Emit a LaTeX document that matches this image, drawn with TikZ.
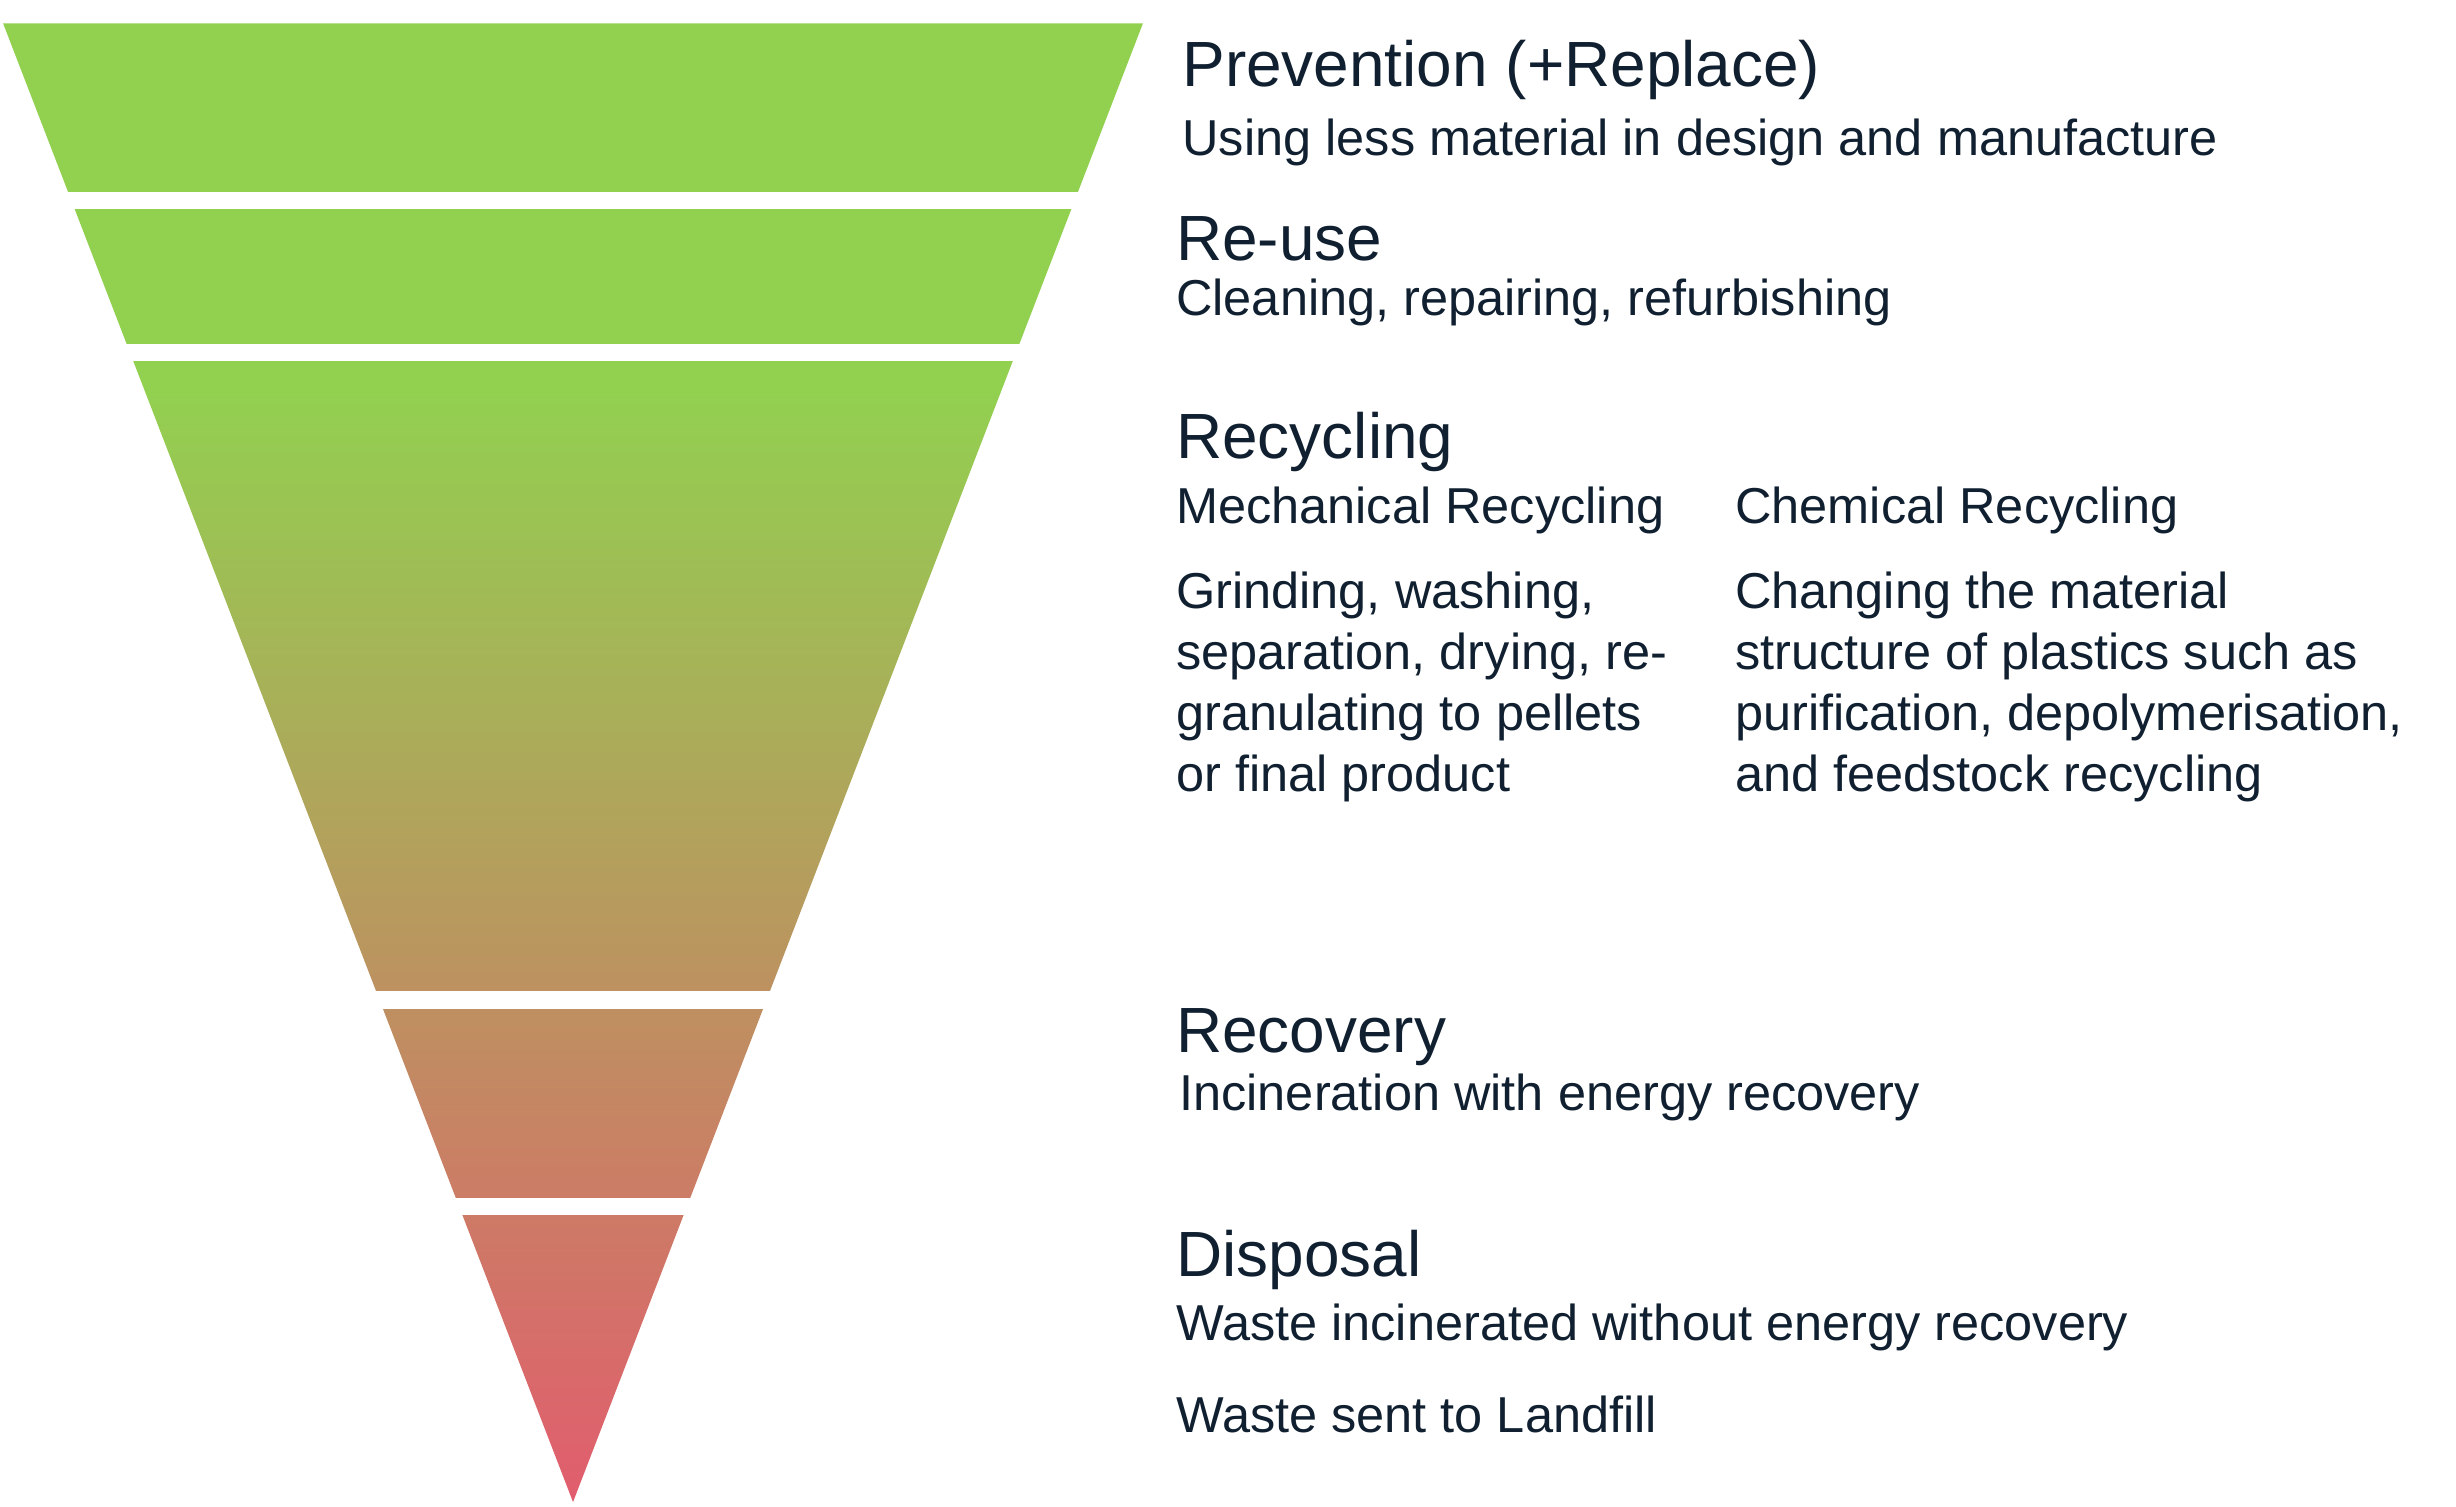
\documentclass[tikz,border=0pt]{standalone}
\usepackage{fontspec}
\setmainfont{Liberation Sans}
\usetikzlibrary{positioning}
\definecolor{leafgreen}{RGB}{146,208,80}
\definecolor{olivemid}{RGB}{178,160,92}
\definecolor{rosered}{RGB}{226,92,110}
\definecolor{inkblue}{RGB}{16,32,48}

\begin{document}
\begin{tikzpicture}[
        x=0.02cm, y=-0.02cm,
        level/.style={
          anchor=west,
          inner sep=0pt,
          text=inkblue,
          font=\fontsize{23.3}{27}\selectfont
          },
        detail/.style={
          anchor=west,
          inner sep=0pt,
          text=inkblue,
          align=left,
          font=\fontsize{18.4}{22.2}\selectfont
          },
        gap/.style={
          fill=white
          }
        ]
        \useasboundingbox (0,0) rectangle (1573,965);
        % funnel
        \begin{scope}
          \clip (2,15) -- (732,15) -- (367,962) -- cycle;
          \fill[leafgreen] (0,0) rectangle (740,250);
          \shade[top color=leafgreen, middle color=olivemid, bottom color=rosered]
            (0,250) rectangle (740,965);
        \end{scope}
        \foreach \gy in {123,220,635,767}
          \fill[gap] (0,\gy) rectangle (740,\gy+11);
        % labels
        \node[level]  (prev)    at (757,45)  {Prevention (+Replace)};
        \node[detail] (prevtxt) at (757,91)  {Using less material in design and manufacture};
        \node[level]  (reuse)    at (753,153) {Re-use};
        \node[detail] (reusetxt) at (753,194) {Cleaning, repairing, refurbishing};
        \node[level]  (recyc)   at (753,283) {Recycling};
        \node[detail] (mech)    at (753,327) {Mechanical Recycling};
        \node[detail] (chem)    at (1111,327) {Chemical Recycling};
        \node[detail, anchor=north west] (mechtxt) at (753,366)
          {Grinding, washing,\\separation, drying, re-\\granulating to pellets\\or final product};
        \node[detail, anchor=north west] (chemtxt) at (1111,366)
          {Changing the material\\structure of plastics such as\\purification, depolymerisation,\\and feedstock recycling};
        \node[level]  (recov)    at (753,664) {Recovery};
        \node[detail] (recovtxt) at (755,703) {Incineration with energy recovery};
        \node[level]  (disp)     at (753,807) {Disposal};
        \node[detail] (disptxt)  at (753,850) {Waste incinerated without energy recovery};
        \node[detail] (landfill) at (753,906) {Waste sent to Landfill};
    \end{tikzpicture}
\end{document}
